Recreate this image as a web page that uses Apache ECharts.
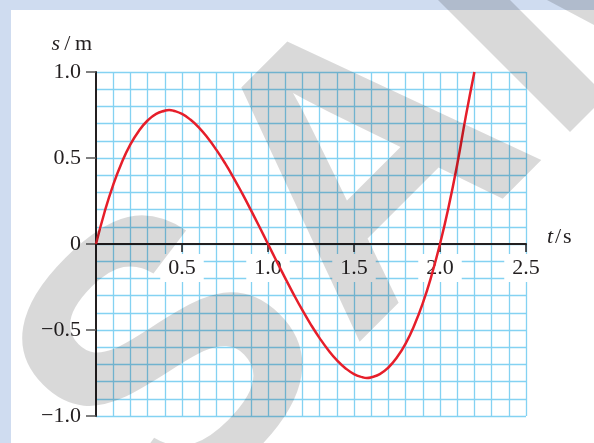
<!DOCTYPE html>
<html lang="en">
  <head>
    <meta charset="UTF-8" />
    <title>s-t graph</title>
    <script src="https://cdn.jsdelivr.net/npm/echarts@6/dist/echarts.min.js"></script>
    <style>
      html, body { margin: 0; padding: 0; background: #cfdcf0; }
      #main { width: 594px; height: 443px; }
    </style>
  </head>
  <body>
    <div id="main"></div>
    <script>
      // time (s) and displacement (m), incl. the turning points
      var tValues = [0, 0.05, 0.1, 0.15, 0.2, 0.25, 0.3, 0.35, 0.4, 0.425, 0.45,
        0.5, 0.55, 0.6, 0.65, 0.7, 0.75, 0.8, 0.85, 0.9, 0.95,
        1.0, 1.05, 1.1, 1.15, 1.2, 1.25, 1.3, 1.35, 1.4, 1.45,
        1.5, 1.55, 1.575, 1.6, 1.65, 1.7, 1.75, 1.8, 1.85, 1.9, 1.95,
        2.0, 2.05, 2.1, 2.15, 2.2];
      var sValues = [0, 0.186, 0.344, 0.474, 0.579, 0.659, 0.718, 0.757, 0.775, 0.779, 0.775,
        0.756, 0.722, 0.675, 0.616, 0.547, 0.470, 0.385, 0.294, 0.198, 0.100,
        0, -0.100, -0.198, -0.294, -0.385, -0.470, -0.547, -0.616, -0.675, -0.722,
        -0.756, -0.775, -0.779, -0.775, -0.757, -0.718, -0.659, -0.579, -0.474, -0.344, -0.186,
        0, 0.215, 0.462, 0.742, 1.0];
      var xTickLabels = ['0.5', '1.0', '1.5', '2.0', '2.5'];
      var yTickLabels = ['\u22121.0', '\u22120.5', '0', '0.5', '1.0'];

      var serif = '"Liberation Serif", "Times New Roman", serif';
      var ink = '#231f20';
      var gridColor = '#84d2f2';
      var shade = 'rgba(0,0,0,0.15)';

      var points = [];
      for (var i = 0; i < tValues.length; i++) {
        points.push([tValues[i], sValues[i]]);
      }

      // big rotated "SAT" watermark laid over everything
      function letter(ch, x, y) {
        return {
          type: 'text', x: x, y: y, rotation: Math.PI / 4, z: 100, silent: true,
          style: {
            text: ch, font: 'bold 383px "Liberation Sans", Arial, sans-serif',
            fill: shade, align: 'center', verticalAlign: 'middle'
          }
        };
      }
      function patch(pts) {
        return { type: 'polygon', z: 100, silent: true, shape: { points: pts }, style: { fill: shade } };
      }

      var chart = echarts.init(document.getElementById('main'));
      chart.setOption({
        backgroundColor: '#cfdcf0',
        animation: false,
        grid: { left: 96, top: 72, width: 430, height: 344, containLabel: false },
        xAxis: {
          type: 'value', min: 0, max: 2.5, interval: 0.5, z: 1,
          // axis drawn through s = 0, half way up the grid
          offset: -172,
          name: '{i|t}\u200a/\u200as',
          nameLocation: 'end', nameGap: 21,
          nameTextStyle: {
            color: ink, fontFamily: serif, fontSize: 22, padding: [0, 0, 14, 0],
            rich: { i: { fontStyle: 'italic', fontFamily: serif, fontSize: 22, color: ink } }
          },
          axisLine: { onZero: false, lineStyle: { color: ink, width: 2 } },
          axisTick: { show: true, length: 8, lineStyle: { color: ink, width: 1.5 } },
          minorTick: { show: false, splitNumber: 5 },
          axisLabel: {
            showMinLabel: false, margin: 10, color: ink, fontFamily: serif, fontSize: 22,
            backgroundColor: '#fff', padding: [3, 8, 3, 8],
            formatter: function (v) { return xTickLabels[Math.round(v / 0.5) - 1]; }
          },
          splitLine: { show: true, showMinLine: false, lineStyle: { color: gridColor, width: 1.3 } },
          minorSplitLine: { show: true, lineStyle: { color: gridColor, width: 1.3 } }
        },
        yAxis: {
          type: 'value', min: -1, max: 1, interval: 0.5, z: 0,
          name: '{i|s}\u2009/\u2009m',
          nameLocation: 'end', nameGap: 17,
          nameTextStyle: {
            color: ink, fontFamily: serif, fontSize: 22, align: 'right', padding: [0, 4, 0, 0],
            rich: { i: { fontStyle: 'italic', fontFamily: serif, fontSize: 22, color: ink } }
          },
          axisLine: { show: true, onZero: false, lineStyle: { color: ink, width: 2 } },
          axisTick: { show: true, length: 10, lineStyle: { color: '#555', width: 1.5 } },
          minorTick: { show: false, splitNumber: 5 },
          axisLabel: {
            margin: 15, color: ink, fontFamily: serif, fontSize: 22,
            formatter: function (v) { return yTickLabels[Math.round((v + 1) / 0.5)]; }
          },
          splitLine: { show: true, lineStyle: { color: gridColor, width: 1.3 } },
          minorSplitLine: { show: true, lineStyle: { color: gridColor, width: 1.3 } }
        },
        series: [{
          type: 'line', data: points, smooth: true, showSymbol: false, z: 5,
          lineStyle: { color: '#e61e2a', width: 2.5 }
        }],
        graphic: [
          { type: 'rect', z: -10, silent: true, shape: { x: 11, y: 10, width: 583, height: 433 }, style: { fill: '#fff' } },
          letter('S', 179, 373),
          letter('A', 376, 176),
          // only the stem of the T shows, plus a corner of the next letter
          patch([[369, -69], [405, -105], [606, 96], [570, 132]]),
          patch([[547, 0], [594, 0], [594, 25]])
        ]
      });
    </script>
  </body>
</html>
